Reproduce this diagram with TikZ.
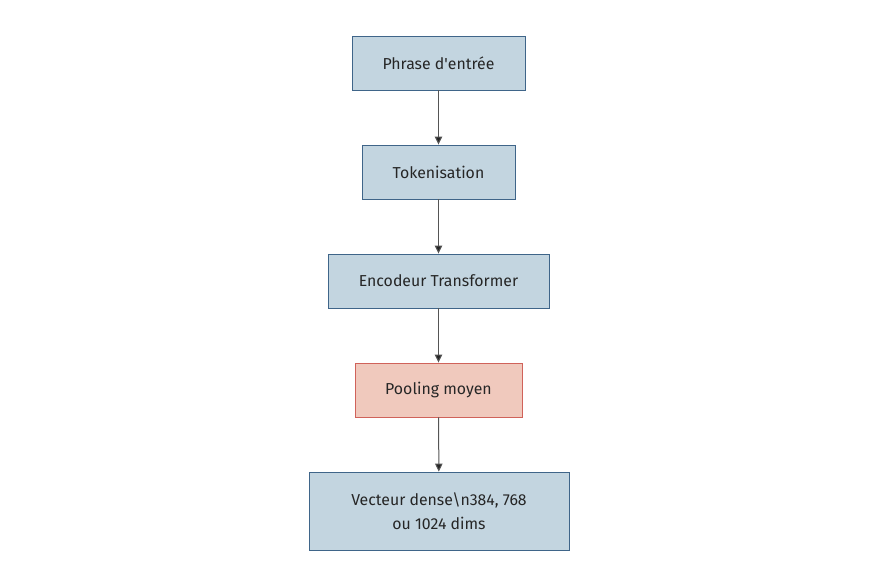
\documentclass[tikz,border=0pt]{standalone}
\usepackage{fontspec}
\setmainfont{Fira Sans}
\usetikzlibrary{arrows.meta}
\definecolor{bfill}{HTML}{C3D5E0}
\definecolor{bdraw}{HTML}{3F6589}
\definecolor{rfill}{HTML}{F0C9BD}
\definecolor{rdraw}{HTML}{D0625A}
\definecolor{arr}{HTML}{555555}
\tikzset{
  bluebox/.style={draw=bdraw, fill=bfill, line width=0.9pt, inner sep=0pt, align=center, font=\fontsize{15.85}{24}\selectfont, text=black!85},
  redbox/.style={bluebox, draw=rdraw, fill=rfill},
  conn/.style={draw=arr, line width=1pt, -{Triangle[length=8pt,width=7.5pt,fill=black!85]}}
}
\begin{document}
\begin{tikzpicture}[x=1pt,y=-1pt]
\useasboundingbox (0,0) rectangle (879,586);
\node[bluebox, minimum width=173pt, minimum height=54pt] (a) at (438.5,63) {Phrase d\textquotesingle entrée};
\node[bluebox, minimum width=153pt, minimum height=54pt] (b) at (438.5,172) {Tokenisation};
\node[bluebox, minimum width=221pt, minimum height=54pt] (c) at (438.5,281) {Encodeur Transformer};
\node[redbox, minimum width=167pt, minimum height=54pt] (d) at (438.5,390) {Pooling moyen};
\node[bluebox, minimum width=260pt, minimum height=78pt] (e) at (439,511) {Vecteur dense\textbackslash n384, 768\\ou 1024 dims};
\draw[conn] (a) -- (b);
\draw[conn] (b) -- (c);
\draw[conn] (c) -- (d);
\draw[conn] (d) -- (e);
\end{tikzpicture}
\end{document}
